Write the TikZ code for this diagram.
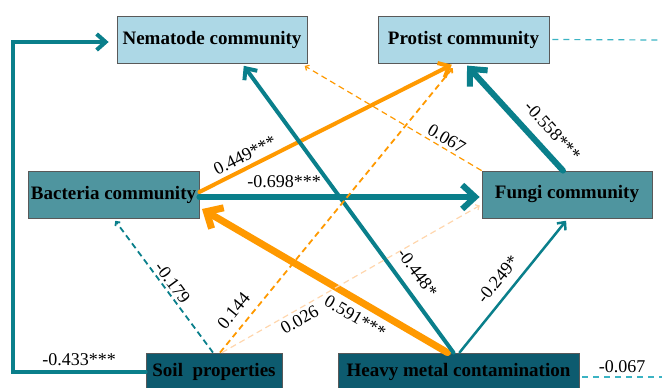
\documentclass[tikz,border=0pt]{standalone}
\usepackage{fontspec}
\setmainfont{Liberation Serif}
\usetikzlibrary{arrows.meta,positioning}

\definecolor{boxlight}{HTML}{ADD8E6}
\definecolor{boxmid}{HTML}{4F959F}
\definecolor{boxdark}{HTML}{0D5B6F}
\definecolor{tealline}{HTML}{0A7F8B}
\definecolor{orangeline}{HTML}{FF9900}
\definecolor{paleorange}{HTML}{FFD6AD}
\definecolor{cyanline}{HTML}{3BB3C3}

\begin{document}
\begin{tikzpicture}[
    x=1pt, y=-1pt,
    box/.style={draw=black!65, line width=0.8pt, inner sep=2pt, font=\fontsize{19}{22}\selectfont\bfseries},
    lightbox/.style={box, fill=boxlight, minimum height=47pt},
    midbox/.style={box, fill=boxmid, minimum height=47pt},
    darkbox/.style={box, fill=boxdark, minimum height=38pt},
    coef/.style={font=\fontsize{18}{20}\selectfont, text=black, sloped, inner sep=2pt},
    bold/.style={line width=6pt, line cap=round, -{Straight Barb[length=13pt, width=24pt]}},
    medium/.style={line width=4pt, line cap=round, -{Straight Barb[length=9pt, width=16pt]}},
    thin/.style={line width=2.5pt, line cap=round, -{Straight Barb[length=6pt, width=11pt]}},
    faint/.style={line width=1.8pt, dash pattern=on 6pt off 4pt, -{Straight Barb[length=3pt, width=6pt]}},
    errline/.style={cyanline, line width=1.2pt, dash pattern=on 6pt off 5pt}
]
\useasboundingbox (0,0) rectangle (662,388);

% Community boxes
\node[lightbox, minimum width=190pt] (nem) at (212,39.5) {Nematode community};
\node[lightbox, minimum width=171pt] (prot) at (463.5,39.5) {Protist community};
\node[midbox, minimum width=171pt] (bact) at (113.5,194.5) {Bacteria community};
\node[midbox, minimum width=170pt] (fungi) at (567,194.5) {Fungi community};

% Drivers
\node[darkbox, minimum width=136pt] (soil) at (214,372) {Soil\ \ properties};
\node[darkbox, minimum width=241pt] (heavy) at (458.5,372) {Heavy metal contamination};

% Free ends at the right border
\coordinate (protR) at (662,40);
\coordinate (heavyR) at (662,377);

% Soil properties -> nematodes
\draw[medium, tealline, shorten >=8pt] (soil.west) -- node[coef, above=2pt] {-0.433***} ++(-133,0)
    |- ([yshift=-2.5pt]nem.west);

% Bacteria links
\draw[bold, tealline, shorten >=2pt] ([yshift=-2.5pt]bact.east) -- node[coef, above=4pt, pos=0.3] {-0.698***}
    ([yshift=-2.5pt]fungi.west);
\draw[medium, orangeline, shorten >=3pt] ([yshift=2.5pt]bact.east) -- node[coef, above=2pt, pos=0.2] {0.449***}
    ([xshift=-9pt]prot.south);

% Fungi links
\draw[bold, tealline, shorten >=3pt] ([xshift=-4pt]fungi.north) -- node[coef, above=8pt, pos=0.25] {-0.558***}
    ([xshift=1.5pt]prot.south);
\draw[faint, orangeline, line width=1.2pt, shorten >=5pt] (fungi.north west) -- node[coef, above=1pt, pos=0.22] {0.067}
    ([xshift=-7pt]nem.south east);

% Heavy metal contamination
\draw[line width=7pt, line cap=round, orangeline, -{Straight Barb[length=13pt, width=24pt]}, shorten >=3pt]
    ([xshift=-11pt]heavy.north) -- node[coef, below=4pt, pos=0.34] {0.591***} ([yshift=-13pt]bact.east);
\draw[medium, tealline, shorten >=3pt] ([xshift=-5pt]heavy.north) -- node[coef, above=8pt, pos=0.24] {-0.448*}
    ([xshift=30pt]nem.south);
\draw[thin, tealline, shorten >=3pt] ([xshift=1pt]heavy.north) -- node[coef, above=7pt, pos=0.47] {-0.249*}
    ([xshift=1pt]fungi.south);

% Soil properties (dashed)
\draw[faint, tealline, shorten >=3pt] ([xshift=-1pt]soil.north) -- node[coef, above=0pt, pos=0.48] {-0.179}
    (bact.south);
\draw[faint, orangeline, shorten >=6pt] ([xshift=6pt]soil.north) -- node[coef, above=7pt, pos=0.11] {0.144}
    ([xshift=-7pt]prot.south);
\draw[faint, paleorange, line width=1.2pt, shorten >=2pt] ([xshift=8pt]soil.north) -- node[coef, below=1pt, pos=0.28] {0.026}
    ([yshift=-10pt]fungi.west);

% Residual terms
\draw[errline] ([xshift=3pt]prot.east) -- (protR);
\draw[errline] ([xshift=3pt, yshift=-5pt]heavy.east) -- node[coef, above=2pt] {-0.067} (heavyR);

\end{tikzpicture}
\end{document}
